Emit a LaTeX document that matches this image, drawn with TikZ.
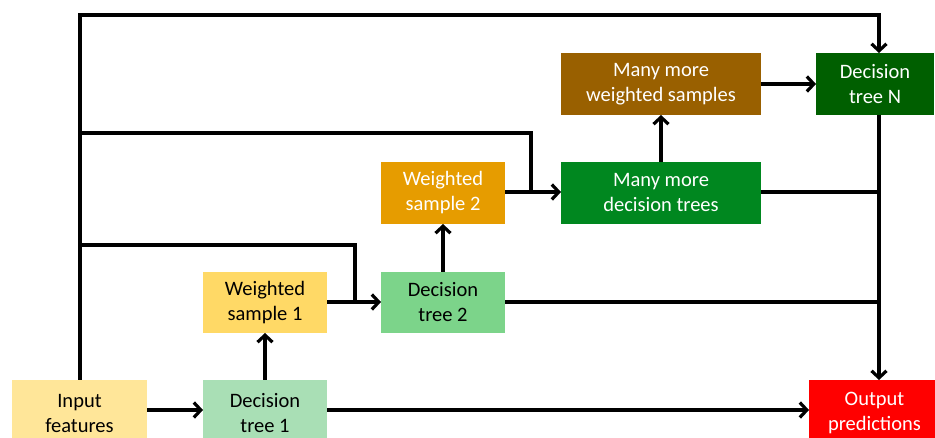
\documentclass[tikz,border=0pt]{standalone}
\usepackage{fontspec}
\setmainfont{Carlito}
\usetikzlibrary{arrows.meta}
\definecolor{cinput}{HTML}{FFE699}
\definecolor{ctreeone}{HTML}{A9DFB5}
\definecolor{csampone}{HTML}{FFD966}
\definecolor{ctreetwo}{HTML}{7CD48A}
\definecolor{csamptwo}{HTML}{E69C00}
\definecolor{cmoretree}{HTML}{00871F}
\definecolor{cmoresamp}{HTML}{996000}
\definecolor{ctreen}{HTML}{005F00}
\definecolor{cout}{HTML}{FF0000}
\begin{document}
\begin{tikzpicture}[x=1pt,y=-1pt,
  boxstyle/.style={draw=none,inner sep=0pt,align=center,font=\fontsize{20.5}{25}\selectfont},
  conn/.style={line width=3.2pt,line join=miter},
  arr/.style={conn,-{Straight Barb[length=7pt,width=15pt,line width=3.2pt]}}]
\useasboundingbox (0,0) rectangle (935,438);
\begin{scope}
\clip (0,0) rectangle (935,438);
% boxes
\fill[cinput] (12,380) rectangle (147,446);
\node[boxstyle] (inp) at (79.5,413) {Input\\features};
\fill[ctreeone] (203,380) rectangle (327,446);
\node[boxstyle] (t1) at (265,413) {Decision\\tree 1};
\fill[csampone] (203,272) rectangle (327,333);
\node[boxstyle] (s1) at (265,302.5) {Weighted\\sample 1};
\fill[ctreetwo] (381,272) rectangle (505,333);
\node[boxstyle] (t2) at (443,302.5) {Decision\\tree 2};
\fill[csamptwo] (381,162) rectangle (505,224);
\node[boxstyle,text=white] (s2) at (443,193) {Weighted\\sample 2};
\fill[cmoretree] (561,162) rectangle (761,224);
\node[boxstyle,text=white] (mt) at (661,193) {Many more\\decision trees};
\fill[cmoresamp] (561,53) rectangle (761,115);
\node[boxstyle,text=white] (ms) at (661,84) {Many more\\weighted samples};
\fill[ctreen] (816,53) rectangle (934,115);
\node[boxstyle,text=white] (tn) at (875,84) {Decision\\tree N};
\fill[cout] (809,380) rectangle (940,446);
\node[boxstyle,text=white] (out) at (874.5,413) {Output\\predictions};
% anchor coordinates
\coordinate (inptop) at (80,380);
\coordinate (inpr) at (147,410);
\coordinate (t1l) at (203,410);
\coordinate (t1r) at (327,410);
\coordinate (t1t) at (265,380);
\coordinate (s1b) at (265,333);
\coordinate (s1r) at (327,302);
\coordinate (t2l) at (381,302);
\coordinate (t2r) at (505,302);
\coordinate (t2t) at (443,272);
\coordinate (s2b) at (443,224);
\coordinate (s2r) at (505,192);
\coordinate (mtl) at (561,192);
\coordinate (mtr) at (761,192);
\coordinate (mtt) at (661,162);
\coordinate (msb) at (661,115);
\coordinate (msr) at (761,84);
\coordinate (tnl) at (816,84);
\coordinate (tnt) at (879,53);
\coordinate (tnb) at (879,115);
\coordinate (outl) at (809,410);
\coordinate (outt) at (879,380);
\coordinate (j1) at (355,302);
\coordinate (j2) at (531,192);
% connectors
\draw[arr] (inpr) -- (t1l);
\draw[arr] (t1r) -- (outl);
\draw[arr] (t1t) -- (s1b);
\draw[arr] (s1r) -- (t2l);
\draw[arr] (t2t) -- (s2b);
\draw[arr] (s2r) -- (mtl);
\draw[arr] (mtt) -- (msb);
\draw[arr] (msr) -- (tnl);
\draw[arr] (inptop) |- (80,15) -| (tnt);
\draw[conn] (80,245) -| (j1);
\draw[conn] (80,133) -| (j2);
\draw[conn] (t2r) -- (879,302);
\draw[conn] (mtr) -- (879,192);
\draw[arr] (tnb) -- (outt);
\end{scope}
\end{tikzpicture}
\end{document}
